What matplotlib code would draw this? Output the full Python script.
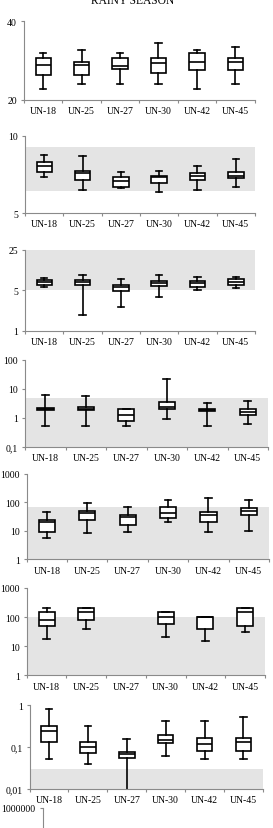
import matplotlib
matplotlib.use("Agg")
import matplotlib.pyplot as plt
from matplotlib.ticker import FixedLocator, NullFormatter

# station names
stations = ['UN-18', 'UN-25', 'UN-27', 'UN-30', 'UN-42', 'UN-45']

# five-number summaries per station: (whisker low, q1, median, q3, whisker high)
temperature = [(22.7, 26.4, 28.7, 30.7, 31.8), (24.0, 26.4, 28.7, 29.7, 32.6),
               (24.0, 27.8, 28.6, 30.7, 31.8), (24.0, 26.7, 29.2, 30.7, 34.5),
               (22.7, 27.5, 29.7, 31.8, 32.6), (24.0, 27.5, 29.7, 30.7, 33.5)]
ph = [(7.35, 7.67, 8.06, 8.32, 8.77), (6.49, 7.13, 7.59, 7.74, 8.66),
      (6.59, 6.70, 7.09, 7.35, 7.67), (6.34, 6.92, 7.31, 7.41, 7.74),
      (6.49, 7.13, 7.41, 7.56, 8.06), (6.70, 7.24, 7.41, 7.67, 8.49)]
oxygen = [(5.7, 6.3, 6.9, 7.6, 8.1), (1.84, 6.3, 7.1, 7.7, 9.1),
          (2.55, 4.8, 5.7, 6.3, 7.8), (3.8, 5.9, 6.8, 7.3, 9.1),
          (5.1, 5.7, 6.7, 7.3, 8.4), (5.55, 6.2, 7.1, 7.8, 8.5)]
bod = [(0.51, 1.86, 2.0, 2.17, 6.2), (0.51, 1.86, 2.0, 2.4, 5.6),
       (0.51, 0.8, 1.25, 2.05, 2.1), (0.89, 2.0, 2.4, 3.4, 21.4),
       (0.51, 1.67, 1.86, 2.0, 3.3), (0.62, 1.22, 1.55, 2.0, 3.8)]
turbidity = [(5.5, 9.1, 20.4, 24.0, 44.6), (8.4, 24.7, 41.0, 48.0, 95.0),
             (9.4, 15.6, 29.8, 37.0, 67.0), (20.4, 29.0, 42.0, 68.6, 124.0),
             (9.4, 19.9, 36.0, 44.6, 146.0), (9.9, 35.0, 48.0, 61.5, 124.0)]
solids = [(17.5, 48.5, 79.0, 145.0, 200.0), (39.0, 79.0, 145.0, 200.0, 200.0),
          None, (20.0, 60.0, 100.0, 145.0, 145.0),
          (15.0, 39.0, 100.0, 100.0, 100.0), (30.0, 48.5, 145.0, 200.0, 200.0)]
phosphorus = [(0.05, 0.13, 0.235, 0.32, 0.8), (0.04, 0.07, 0.1, 0.128, 0.32),
              (0.009, 0.055, 0.066, 0.074, 0.156), (0.061, 0.126, 0.146, 0.197, 0.42),
              (0.05, 0.079, 0.12, 0.16, 0.42), (0.05, 0.079, 0.133, 0.16, 0.52)]

W, H = 273, 829
fig = plt.figure(figsize=(W / 100, H / 100), dpi=100)
plt.rcParams['font.family'] = ['Liberation Serif', 'DejaVu Serif']

gray = '#8a8a8a'
band_color = '#e4e4e4'


def make_axes(x0, x1, y0, y1):
    return fig.add_axes([x0 / W, 1 - y1 / H, (x1 - x0) / W, (y1 - y0) / H])


def panel(stats, box, ylim, ticks, labels, band=None, scale='linear', base=10):
    ax = make_axes(*box)
    if scale == 'log':
        ax.set_yscale('log', base=base)
    ax.set_xlim(0.5, 6.5)
    ax.set_ylim(*ylim)
    if band is not None:
        ax.axhspan(band[0], band[1], color=band_color, zorder=0, lw=0)
    bxp_stats, pos = [], []
    for i, s in enumerate(stats):
        if s is None:
            continue
        lo, q1, med, q3, hi = s
        bxp_stats.append(dict(whislo=lo, q1=q1, med=med, q3=q3, whishi=hi, fliers=[]))
        pos.append(i + 1)
    ax.bxp(bxp_stats, positions=pos, widths=0.4, capwidths=0.17, patch_artist=True,
           showfliers=False, manage_ticks=False,
           boxprops=dict(facecolor='white', edgecolor='black', linewidth=1.2),
           medianprops=dict(color='black', linewidth=1.2),
           whiskerprops=dict(color='black', linewidth=1.2),
           capprops=dict(color='black', linewidth=1.2))
    for side in ['top', 'right']:
        ax.spines[side].set_visible(False)
    for side in ['left', 'bottom']:
        ax.spines[side].set_color(gray)
        ax.spines[side].set_linewidth(0.8)
    ax.yaxis.set_major_locator(FixedLocator(ticks))
    ax.set_yticklabels(labels)
    ax.yaxis.set_minor_locator(FixedLocator([]))
    ax.yaxis.set_minor_formatter(NullFormatter())
    ax.set_xticks(range(1, 7))
    ax.set_xticklabels(stations)
    ax.xaxis.set_minor_locator(FixedLocator([0.5, 1.5, 2.5, 3.5, 4.5, 5.5, 6.5]))
    ax.tick_params(axis='x', which='major', length=0, pad=4.5, labelsize=7)
    ax.tick_params(axis='x', which='minor', length=2.5, color=gray, width=0.8)
    ax.tick_params(axis='y', which='major', length=2.5, color=gray, width=0.8,
                   pad=2.5, labelsize=7)
    ax.patch.set_alpha(0)
    return ax


panel(temperature, (24, 254.5, 22, 100.7), (20, 40), [20, 40], ['20', '40'])
panel(ph, (25, 255, 136.7, 214), (5, 10), [5, 10], ['5', '10'], band=(6.4, 9.25))
panel(oxygen, (25, 255, 251, 331.7), (1, 25), [1, 5, 25], ['1', '5', '25'],
      band=(5, 25), scale='log', base=5)
panel(bod, (25.2, 268, 360.7, 448), (0.1, 100), [0.1, 1, 10, 100],
      ['0,1', '1', '10', '100'], band=(0.1, 5), scale='log')
panel(turbidity, (26.7, 269, 474.8, 560.3), (1, 1000), [1, 10, 100, 1000],
      ['1', '10', '100', '1000'], band=(1, 70), scale='log')
panel(solids, (26.7, 265, 589, 676.3), (1, 1000), [1, 10, 100, 1000],
      ['1', '10', '100', '1000'], band=(1, 100), scale='log')
panel(phosphorus, (29.6, 262.8, 706, 789.7), (0.01, 1), [0.01, 0.1, 1],
      ['0,01', '0,1', '1'], band=(0.01, 0.03), scale='log')

# next panel, cut off at the bottom of the picture
ax8 = make_axes(42.7, 262, 809, 900)
ax8.set_yscale('log')
ax8.set_ylim(1, 1e6)
for side in ['top', 'right', 'bottom']:
    ax8.spines[side].set_visible(False)
ax8.spines['left'].set_color(gray)
ax8.spines['left'].set_linewidth(0.8)
ax8.set_xticks([])
ax8.yaxis.set_major_locator(FixedLocator([1e6]))
ax8.set_yticklabels(['1000000'])
ax8.yaxis.set_minor_locator(FixedLocator([]))
ax8.tick_params(axis='y', length=2.5, color=gray, width=0.8, pad=2.5, labelsize=7)
ax8.patch.set_alpha(0)

fig.text(133 / W, 1 - 4 / H, 'RAINY SEASON', ha='center', va='baseline', fontsize=8.3)

fig.savefig('out.png', dpi=100)
